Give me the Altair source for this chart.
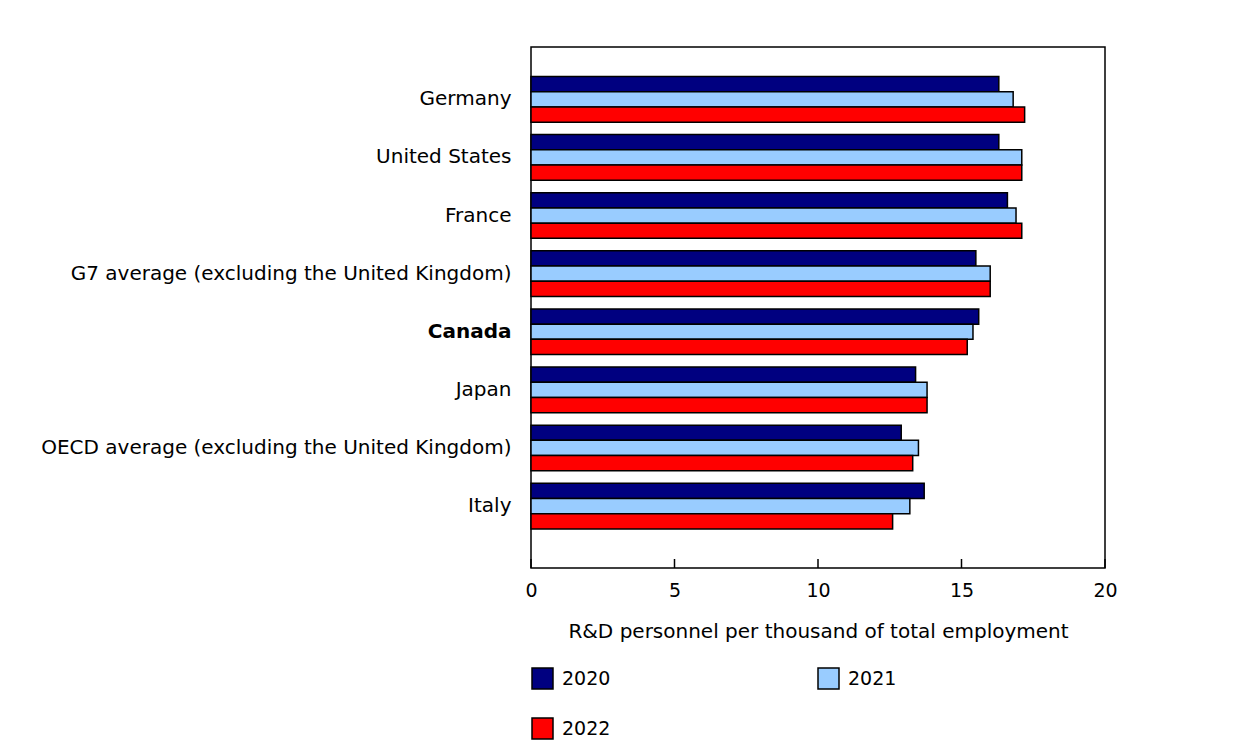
import altair as alt
import pandas as pd

countries = [
    "Germany",
    "United States",
    "France",
    "G7 average (excluding the United Kingdom)",
    "Canada",
    "Japan",
    "OECD average (excluding the United Kingdom)",
    "Italy",
]
years = ["2020", "2021", "2022"]
v2020 = [16.3, 16.3, 16.6, 15.5, 15.6, 13.4, 12.9, 13.7]
v2021 = [16.8, 17.1, 16.9, 16.0, 15.4, 13.8, 13.5, 13.2]
v2022 = [17.2, 17.1, 17.1, 16.0, 15.2, 13.8, 13.3, 12.6]
colors = ["#000080", "#99CCFF", "#FF0000"]
tick_values = [0, 5, 10, 15, 20]

rows = []
for yr, vals in zip(years, [v2020, v2021, v2022]):
    for c, v in zip(countries, vals):
        rows.append({"pays": c, "annee": yr, "valeur": v})
df = pd.DataFrame(rows)

W, H = 574, 521
FONT = "DejaVu Sans"

bars = alt.Chart(df).mark_bar(stroke="black", strokeWidth=1.5).encode(
    x=alt.X("valeur:Q",
            title="R&D personnel per thousand of total employment",
            scale=alt.Scale(domain=[0, 20], nice=False),
            axis=alt.Axis(values=tick_values, grid=False, domain=False, ticks=False,
                          labelFlush=False, labelPadding=13, titlePadding=21,
                          labelFontSize=19, titleFontSize=20, titleFontWeight="normal")),
    y=alt.Y("pays:N", sort=countries, title=None,
            scale=alt.Scale(paddingInner=0.214, paddingOuter=0.59, align=0.43),
            axis=alt.Axis(domain=False, ticks=False, labelPadding=20, labelFontSize=20,
                          labelLimit=600,
                          labelFontWeight={"expr": "datum.value == 'Canada' ? 'bold' : 'normal'"})),
    yOffset=alt.YOffset("annee:N", sort=years, scale=alt.Scale(paddingInner=0, paddingOuter=0)),
    color=alt.Color("annee:N", sort=years, title=None,
                    scale=alt.Scale(domain=years, range=colors),
                    legend=alt.Legend(orient="none", legendX=0, legendY=620, direction="horizontal",
                                      columns=2, columnPadding=204, rowPadding=23,
                                      symbolType="square", symbolSize=441,
                                      symbolStrokeColor="black", symbolStrokeWidth=1.5,
                                      labelFontSize=19, labelOffset=8, padding=0)),
)

ticks = alt.Chart(pd.DataFrame({"t": tick_values})).mark_rule(color="black", strokeWidth=1.5).encode(
    x="t:Q",
    y=alt.value(H - 9),
    y2=alt.value(H),
)

chart = alt.layer(bars, ticks).properties(
    width=W, height=H,
    padding={"top": 39, "left": 32, "right": 5, "bottom": 5},
).configure(font=FONT).configure_view(
    stroke="black", strokeWidth=1.5
).configure_axis(labelColor="black", titleColor="black").configure_legend(labelColor="black")

chart.save("out.html", embed_options={"renderer": "svg", "actions": False})
